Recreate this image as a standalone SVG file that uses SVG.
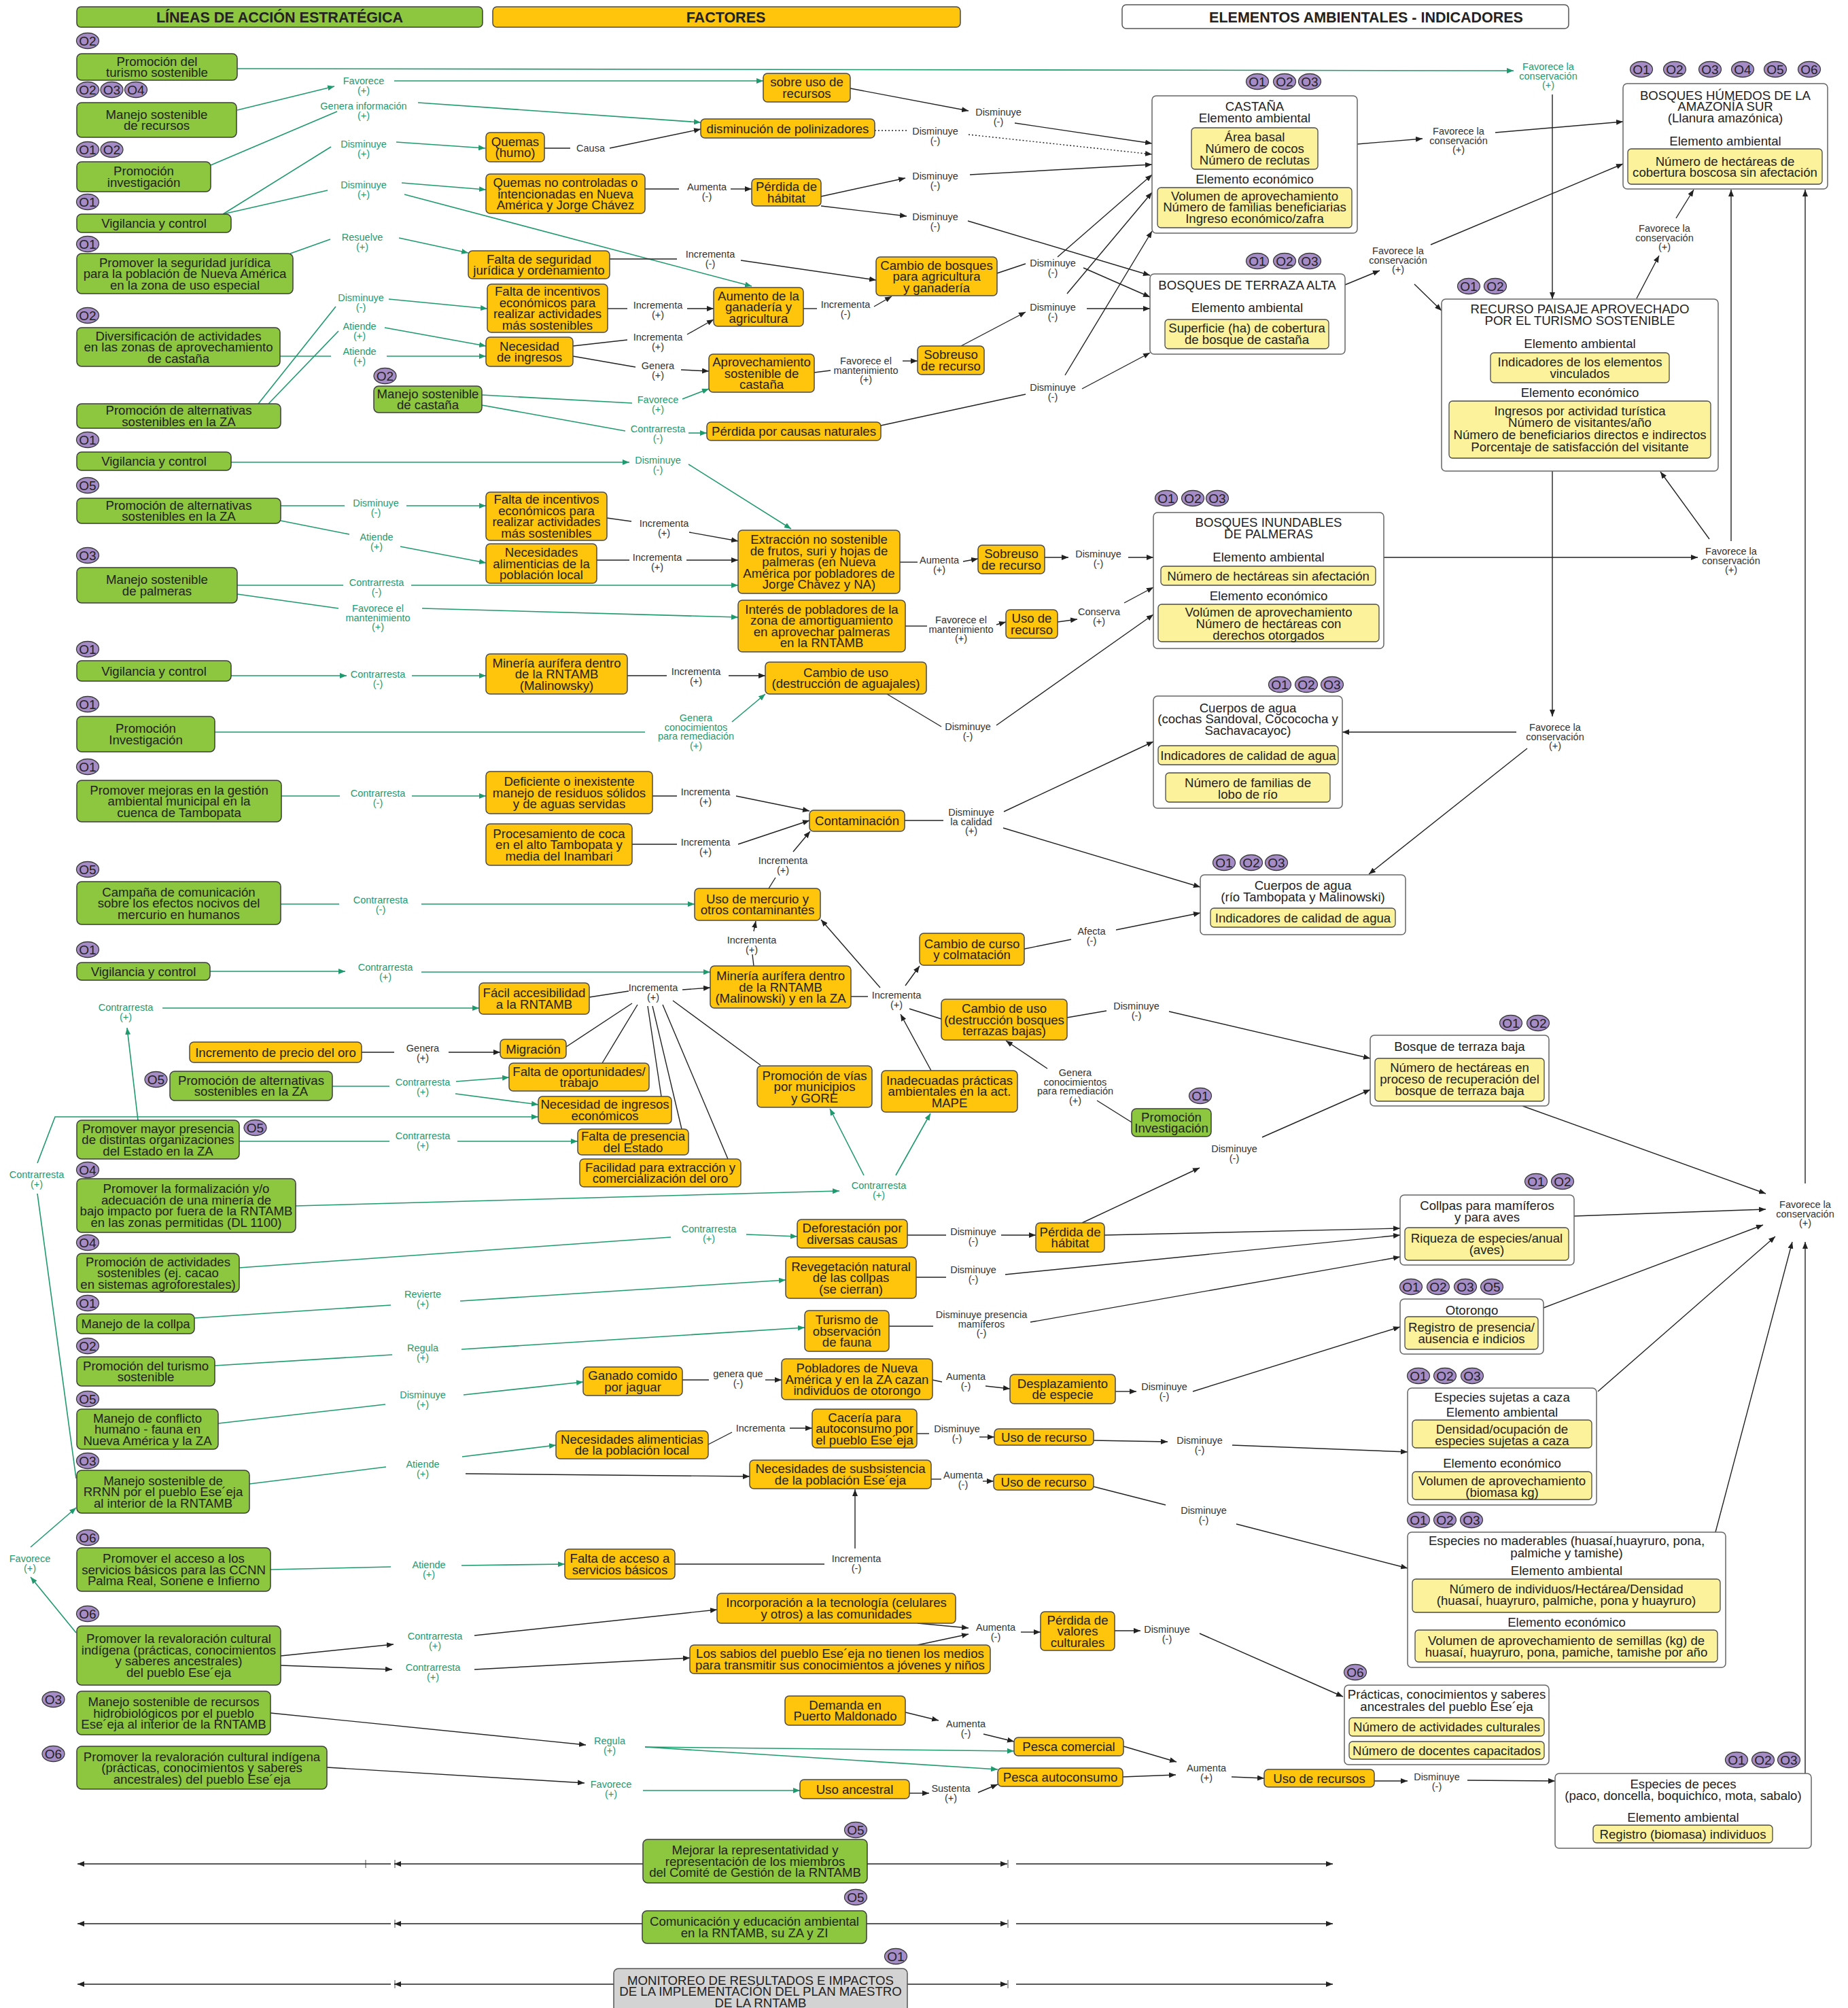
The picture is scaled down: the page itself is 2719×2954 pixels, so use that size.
<svg xmlns="http://www.w3.org/2000/svg" width="2719" height="2954" viewBox="0 0 2719 2954">
<style>
text{font-family:"Liberation Sans",Arial,sans-serif}
.g{fill:#8dc63f;stroke:#3d3d3d;stroke-width:1.5}
.o{fill:#ffc40c;stroke:#4a4a4a;stroke-width:1.5}
.y{fill:#fbf29b;stroke:#4a4a4a;stroke-width:1.3}
.w{fill:#fff;stroke:#666;stroke-width:1.5}
.gr{fill:#d3d3d3;stroke:#555;stroke-width:1.5}
.hd{fill:#fff;stroke:#555;stroke-width:1.5}
.b{fill:#a68cc7;stroke:#3a3a3a;stroke-width:1.3}
.bt{font-size:19px;fill:#222;text-anchor:middle}
.t{font-size:18.6px;fill:#222;text-anchor:middle}
.h{font-size:21.5px;font-weight:bold;fill:#222;text-anchor:middle}
.lg{font-size:14.5px;fill:#1f9a6e;text-anchor:middle}
.ld{font-size:14.5px;fill:#333;text-anchor:middle}
.cg{fill:none;stroke:#1f9a6e;stroke-width:1.6}
.cd{fill:none;stroke:#222;stroke-width:1.4}
.ag{marker-end:url(#mg)}
.ad{marker-end:url(#md)}
.dot{stroke-dasharray:2 3}
</style>
<defs>
<marker id="mg" viewBox="0 0 10 8" refX="10" refY="4" markerWidth="10" markerHeight="8" markerUnits="userSpaceOnUse" orient="auto"><path d="M0,0L10,4L0,8z" fill="#1f9a6e"/></marker>
<marker id="md" viewBox="0 0 10 8" refX="10" refY="4" markerWidth="10" markerHeight="8" markerUnits="userSpaceOnUse" orient="auto"><path d="M0,0L10,4L0,8z" fill="#222"/></marker>
</defs>
<rect width="2719" height="2954" fill="#fff"/>

<g id="headers">
<rect class="g" x="113" y="10" width="597" height="30" rx="6"/>
<text class="h" x="411.5" y="33">LÍNEAS DE ACCIÓN ESTRATÉGICA</text>
<rect class="o" x="725" y="10" width="688" height="30" rx="6"/>
<text class="h" x="1068" y="33">FACTORES</text>
<rect class="hd" x="1651" y="7" width="657" height="35" rx="6"/>
<text class="h" x="2010" y="33">ELEMENTOS AMBIENTALES - INDICADORES</text>
</g>

<g id="connectors">
<path class="cg ag" d="M349,101L2227,104"/>
<path class="cg ag" d="M349,162L492,127"/>
<path class="cg ag" d="M580,119L1123,119"/>
<path class="cg" d="M310,243L496,164"/>
<path class="cg ag" d="M615,151L1031,180"/>
<path class="cg" d="M328,315L487,216"/>
<path class="cg ag" d="M583,209L714,218"/>
<path class="cg" d="M328,315L482,280"/>
<path class="cg ag" d="M591,269L715,279"/>
<path class="cg ag" d="M595,286L1106,421"/>
<path class="cg" d="M427,373L486,352"/>
<path class="cg ag" d="M587,350L689,372"/>
<path class="cg" d="M412,524L487,524"/>
<path class="cg ag" d="M569,524L715,524"/>
<path class="cg" d="M380,594L494,451"/>
<path class="cg ag" d="M572,440L717,454"/>
<path class="cg" d="M395,594L498,487"/>
<path class="cg ag" d="M566,482L715,509"/>
<path class="cg" d="M709,581L930,593"/>
<path class="cg ag" d="M1004,587L1043,572"/>
<path class="cg" d="M709,596L920,634"/>
<path class="cg ag" d="M1013,637L1040,637"/>
<path class="cg ag" d="M340,680L926,680"/>
<path class="cg ag" d="M1013,683L1164,778"/>
<path class="cg" d="M413,744L507,744"/>
<path class="cg ag" d="M598,744L715,744"/>
<path class="cg" d="M413,766L514,786"/>
<path class="cg ag" d="M589,804L715,828"/>
<path class="cg" d="M349,861L505,861"/>
<path class="cg ag" d="M605,861L1086,861"/>
<path class="cg" d="M349,874L498,895"/>
<path class="cg ag" d="M621,895L1086,908"/>
<path class="cg ag" d="M340,994L510,994"/>
<path class="cg ag" d="M606,994L715,994"/>
<path class="cg" d="M316,1077L949,1077"/>
<path class="cg ag" d="M1077,1062L1126,1021"/>
<path class="cg" d="M414,1171L500,1171"/>
<path class="cg ag" d="M606,1171L715,1171"/>
<path class="cg" d="M413,1330L499,1330"/>
<path class="cg ag" d="M620,1330L1022,1330"/>
<path class="cg ag" d="M309,1429L508,1429"/>
<path class="cg ag" d="M620,1430L1045,1430"/>
<path class="cg ag" d="M239,1483L705,1483"/>
<path class="cg ag" d="M203,1648L187,1512"/>
<path class="cg" d="M489,1598L573,1598"/>
<path class="cg ag" d="M671,1591L749,1585"/>
<path class="cg ag" d="M670,1609L792,1625"/>
<path class="cg ag" d="M55,1711L81,1643L792,1643"/>
<path class="cg" d="M112,2175L55,1756"/>
<path class="cg" d="M352,1679L573,1679"/>
<path class="cg ag" d="M673,1679L850,1679"/>
<path class="cg ag" d="M435,1774L1235,1752"/>
<path class="cg ag" d="M1271,1729L1221,1631"/>
<path class="cg ag" d="M1318,1729L1369,1638"/>
<path class="cg" d="M352,1865L987,1820"/>
<path class="cg ag" d="M1098,1816L1173,1819"/>
<path class="cg" d="M286,1939L575,1920"/>
<path class="cg ag" d="M677,1914L1156,1883"/>
<path class="cg" d="M316,2009L577,1993"/>
<path class="cg ag" d="M679,1985L1184,1953"/>
<path class="cg" d="M321,2094L567,2066"/>
<path class="cg ag" d="M682,2052L858,2033"/>
<path class="cg" d="M367,2183L568,2158"/>
<path class="cg ag" d="M680,2143L818,2126"/>
<path class="cg ag" d="M45,2276L112,2218"/>
<path class="cg ag" d="M112,2402L45,2320"/>
<path class="cg" d="M398,2309L575,2305"/>
<path class="cg ag" d="M679,2303L831,2301"/>
<path class="cg ag" d="M949,2570L1492,2576"/>
<path class="cg ag" d="M949,2570L1468,2603"/>
<path class="cg ag" d="M946,2634L1177,2634"/>

<path class="cd ad" d="M685,2168L1103,2172"/>
<path class="cd ad" d="M413,2436L579,2419"/>
<path class="cd ad" d="M698,2406L1055,2368"/>
<path class="cd ad" d="M413,2450L577,2456"/>
<path class="cd ad" d="M698,2456L1015,2439"/>
<path class="cd ad" d="M398,2520L862,2567"/>
<path class="cd ad" d="M481,2600L860,2623"/>
<path class="cd ad" d="M2284,139L2284,440"/>
<path class="cd ad" d="M2284,693L2284,1054"/>
<path class="cd ad" d="M2231,1077L1975,1077"/>
<path class="cd ad" d="M2247,1101L2014,1286"/>
<path class="cd" d="M532,1548L580,1548"/>
<path class="cd ad" d="M660,1548L736,1548"/>
<path class="cd" d="M801,218L839,218"/>
<path class="cd ad" d="M897,218L1031,190"/>
<path class="cd ad" d="M1251,130L1425,163"/>
<path class="cd ad" d="M1493,181L1695,211"/>
<path class="cd dot" d="M1287,192L1335,192"/>
<path class="cd dot ad" d="M1425,198L1695,227"/>
<path class="cd" d="M949,278L999,278"/>
<path class="cd ad" d="M1075,278L1106,278"/>
<path class="cd ad" d="M1208,289L1332,262"/>
<path class="cd ad" d="M1427,257L1695,242"/>
<path class="cd ad" d="M1208,303L1334,318"/>
<path class="cd ad" d="M1424,325L1692,405"/>
<path class="cd" d="M897,381L996,381"/>
<path class="cd ad" d="M1090,383L1289,412"/>
<path class="cd" d="M894,454L923,454"/>
<path class="cd ad" d="M1011,454L1050,454"/>
<path class="cd" d="M843,509L923,500"/>
<path class="cd ad" d="M1011,492L1050,470"/>
<path class="cd" d="M843,524L935,540"/>
<path class="cd ad" d="M1002,544L1043,546"/>
<path class="cd" d="M1182,454L1202,454"/>
<path class="cd ad" d="M1286,451L1312,436"/>
<path class="cd" d="M1467,402L1509,388"/>
<path class="cd ad" d="M1556,378L1695,257"/>
<path class="cd ad" d="M1594,394L1692,437"/>
<path class="cd ad" d="M1414,509L1509,459"/>
<path class="cd ad" d="M1599,454L1692,454"/>
<path class="cd ad" d="M1570,432L1695,283"/>
<path class="cd" d="M1198,548L1222,545"/>
<path class="cd ad" d="M1328,531L1350,531"/>
<path class="cd" d="M1296,626L1509,580"/>
<path class="cd ad" d="M1592,572L1692,519"/>
<path class="cd ad" d="M1567,552L1695,340"/>
<path class="cd ad" d="M1997,212L2093,204"/>
<path class="cd ad" d="M2200,195L2388,179"/>
<path class="cd ad" d="M1979,419L2030,398"/>
<path class="cd ad" d="M2105,360L2388,241"/>
<path class="cd ad" d="M2081,418L2121,457"/>
<path class="cd ad" d="M2408,439L2441,376"/>
<path class="cd ad" d="M2466,321L2492,279"/>
<path class="cd ad" d="M2547,796L2547,279"/>
<path class="cd ad" d="M2515,793L2443,694"/>
<path class="cd ad" d="M2036,820L2498,820"/>
<path class="cd ad" d="M2656,1741L2656,279"/>
<path class="cd ad" d="M2240,1627L2598,1756"/>
<path class="cd ad" d="M2316,1789L2598,1779"/>
<path class="cd ad" d="M2271,1924L2594,1802"/>
<path class="cd ad" d="M2351,2047L2612,1819"/>
<path class="cd ad" d="M2524,2254L2637,1827"/>
<path class="cd ad" d="M2656,2609L2656,1827"/>
<path class="cd" d="M893,762L929,767"/>
<path class="cd ad" d="M1014,783L1086,796"/>
<path class="cd" d="M878,824L926,824"/>
<path class="cd ad" d="M1010,824L1086,824"/>
<path class="cd" d="M1324,827L1350,827"/>
<path class="cd ad" d="M1417,826L1439,822"/>
<path class="cd ad" d="M1537,820L1572,820"/>
<path class="cd ad" d="M1660,820L1697,820"/>
<path class="cd" d="M1332,921L1364,921"/>
<path class="cd ad" d="M1466,919L1480,915"/>
<path class="cd ad" d="M1556,915L1585,911"/>
<path class="cd ad" d="M1654,887L1697,864"/>
<path class="cd" d="M923,994L981,994"/>
<path class="cd ad" d="M1072,994L1126,994"/>
<path class="cd" d="M1305,1021L1385,1069"/>
<path class="cd ad" d="M1466,1067L1697,904"/>
<path class="cd" d="M960,1171L996,1171"/>
<path class="cd ad" d="M1083,1171L1191,1193"/>
<path class="cd" d="M930,1242L996,1242"/>
<path class="cd ad" d="M1086,1242L1191,1207"/>
<path class="cd" d="M1131,1307L1141,1291"/>
<path class="cd ad" d="M1167,1253L1192,1223"/>
<path class="cd" d="M1331,1207L1388,1207"/>
<path class="cd ad" d="M1477,1194L1697,1091"/>
<path class="cd ad" d="M1476,1218L1766,1305"/>
<path class="cd" d="M1109,1421L1107,1404"/>
<path class="cd ad" d="M1109,1370L1112,1355"/>
<path class="cd" d="M1252,1466L1277,1466"/>
<path class="cd ad" d="M1295,1453L1208,1353"/>
<path class="cd ad" d="M1332,1450L1353,1421"/>
<path class="cd" d="M1338,1484L1385,1499"/>
<path class="cd ad" d="M1370,1575L1325,1492"/>
<path class="cd" d="M1507,1396L1576,1382"/>
<path class="cd ad" d="M1642,1368L1766,1343"/>
<path class="cd ad" d="M1004,1456L1045,1453"/>
<path class="cd" d="M867,1467L925,1458"/>
<path class="cd" d="M833,1540L930,1476"/>
<path class="cd" d="M886,1564L938,1478"/>
<path class="cd" d="M973,1613L953,1480"/>
<path class="cd" d="M1003,1661L960,1480"/>
<path class="cd" d="M1071,1705L975,1478"/>
<path class="cd" d="M1119,1567L990,1472"/>
<path class="cd" d="M1570,1497L1628,1487"/>
<path class="cd ad" d="M1720,1488L2016,1557"/>
<path class="cd" d="M1665,1651L1614,1619"/>
<path class="cd ad" d="M1541,1572L1480,1531"/>
<path class="cd" d="M1335,1817L1392,1817"/>
<path class="cd ad" d="M1473,1817L1524,1817"/>
<path class="cd ad" d="M1625,1817L2060,1807"/>
<path class="cd ad" d="M1592,1799L1765,1718"/>
<path class="cd ad" d="M1857,1673L2016,1603"/>
<path class="cd" d="M1348,1879L1392,1879"/>
<path class="cd ad" d="M1479,1875L2060,1817"/>
<path class="cd" d="M1308,1951L1373,1951"/>
<path class="cd ad" d="M1516,1945L2060,1849"/>
<path class="cd" d="M1004,2030L1043,2030"/>
<path class="cd ad" d="M1126,2030L1150,2030"/>
<path class="cd" d="M1372,2030L1386,2033"/>
<path class="cd ad" d="M1450,2039L1486,2043"/>
<path class="cd ad" d="M1641,2047L1672,2047"/>
<path class="cd ad" d="M1755,2047L2060,1952"/>
<path class="cd" d="M1042,2125L1077,2107"/>
<path class="cd ad" d="M1162,2101L1195,2101"/>
<path class="cd" d="M1349,2109L1367,2109"/>
<path class="cd ad" d="M1441,2114L1463,2114"/>
<path class="cd ad" d="M1609,2119L1718,2121"/>
<path class="cd ad" d="M1813,2126L2071,2136"/>
<path class="cd" d="M1370,2176L1385,2176"/>
<path class="cd ad" d="M1446,2179L1462,2179"/>
<path class="cd" d="M1609,2187L1715,2214"/>
<path class="cd ad" d="M1819,2242L2071,2307"/>
<path class="cd" d="M993,2301L1213,2301"/>
<path class="cd ad" d="M1258,2278L1258,2191"/>
<path class="cd ad" d="M1350,2388L1425,2395"/>
<path class="cd ad" d="M1350,2420L1425,2404"/>
<path class="cd ad" d="M1502,2401L1531,2401"/>
<path class="cd ad" d="M1640,2399L1678,2399"/>
<path class="cd ad" d="M1765,2403L1976,2496"/>
<path class="cd ad" d="M1332,2519L1381,2531"/>
<path class="cd ad" d="M1447,2551L1492,2562"/>
<path class="cd ad" d="M1338,2638L1367,2638"/>
<path class="cd ad" d="M1439,2637L1468,2625"/>
<path class="cd ad" d="M1653,2569L1731,2592"/>
<path class="cd ad" d="M1652,2614L1730,2611"/>
<path class="cd ad" d="M1812,2614L1860,2616"/>
<path class="cd ad" d="M2022,2620L2071,2620"/>
<path class="cd ad" d="M2159,2619L2288,2620"/>

<path class="cd ad" d="M946,2742L580,2742"/>
<path class="cd ad" d="M575,2742L114,2742"/>
<path class="cd ad" d="M1276,2742L1482,2742"/>
<path class="cd ad" d="M1495,2742L1961,2742"/>
<path class="cd ad" d="M945,2830L580,2830"/>
<path class="cd ad" d="M575,2830L114,2830"/>
<path class="cd ad" d="M1275,2830L1482,2830"/>
<path class="cd ad" d="M1495,2830L1961,2830"/>
<path class="cd ad" d="M903,2919L580,2919"/>
<path class="cd ad" d="M575,2919L114,2919"/>
<path class="cd ad" d="M1335,2919L1482,2919"/>
<path class="cd ad" d="M1495,2919L1961,2919"/>
<path class="cd" style="stroke-width:0.8" d="M538,2736V2748M581,2736V2748M1483,2736V2748M581,2824V2836M1483,2824V2836M581,2913V2925M1483,2913V2925"/>
</g>

<g id="labels">
<text class="lg" x="2278" y="103">Favorece la<tspan x="2278" dy="13.5">conservación</tspan><tspan x="2278" dy="13.5">(+)</tspan></text>
<text class="lg" x="535" y="124">Favorece<tspan x="535" dy="13.5">(+)</tspan></text>
<text class="lg" x="535" y="161">Genera información<tspan x="535" dy="13.5">(+)</tspan></text>
<text class="lg" x="535" y="217">Disminuye<tspan x="535" dy="13.5">(+)</tspan></text>
<text class="lg" x="535" y="277">Disminuye<tspan x="535" dy="13.5">(+)</tspan></text>
<text class="lg" x="533" y="354">Resuelve<tspan x="533" dy="13.5">(+)</tspan></text>
<text class="lg" x="531" y="443">Disminuye<tspan x="531" dy="13.5">(-)</tspan></text>
<text class="lg" x="529" y="485">Atiende<tspan x="529" dy="13.5">(+)</tspan></text>
<text class="lg" x="529" y="522">Atiende<tspan x="529" dy="13.5">(+)</tspan></text>
<text class="lg" x="968" y="593">Favorece<tspan x="968" dy="13.5">(+)</tspan></text>
<text class="lg" x="968" y="636">Contrarresta<tspan x="968" dy="13.5">(-)</tspan></text>
<text class="lg" x="968" y="682">Disminuye<tspan x="968" dy="13.5">(-)</tspan></text>
<text class="lg" x="553" y="745">Disminuye<tspan x="553" dy="13.5">(-)</tspan></text>
<text class="lg" x="554" y="795">Atiende<tspan x="554" dy="13.5">(+)</tspan></text>
<text class="lg" x="554" y="862">Contrarresta<tspan x="554" dy="13.5">(-)</tspan></text>
<text class="lg" x="556" y="900">Favorece el<tspan x="556" dy="13.5">mantenimiento</tspan><tspan x="556" dy="13.5">(+)</tspan></text>
<text class="lg" x="556" y="997">Contrarresta<tspan x="556" dy="14">(-)</tspan></text>
<text class="lg" x="1024" y="1061">Genera<tspan x="1024" dy="13.5">conocimientos</tspan><tspan x="1024" dy="13.5">para remediación</tspan><tspan x="1024" dy="13.5">(+)</tspan></text>
<text class="lg" x="556" y="1172">Contrarresta<tspan x="556" dy="13.5">(-)</tspan></text>
<text class="lg" x="560" y="1329">Contrarresta<tspan x="560" dy="13.5">(-)</tspan></text>
<text class="lg" x="567" y="1428">Contrarresta<tspan x="567" dy="13.5">(+)</tspan></text>
<text class="lg" x="185" y="1487">Contrarresta<tspan x="185" dy="13.5">(+)</tspan></text>
<text class="lg" x="622" y="1597">Contrarresta<tspan x="622" dy="13.5">(+)</tspan></text>
<text class="lg" x="54" y="1733">Contrarresta<tspan x="54" dy="13.5">(+)</tspan></text>
<text class="lg" x="622" y="1676">Contrarresta<tspan x="622" dy="13.5">(+)</tspan></text>
<text class="lg" x="1293" y="1749">Contrarresta<tspan x="1293" dy="13.5">(+)</tspan></text>
<text class="lg" x="1043" y="1813">Contrarresta<tspan x="1043" dy="13.5">(+)</tspan></text>
<text class="lg" x="622" y="1909">Revierte<tspan x="622" dy="13.5">(+)</tspan></text>
<text class="lg" x="622" y="1988">Regula<tspan x="622" dy="13.5">(+)</tspan></text>
<text class="lg" x="622" y="2057">Disminuye<tspan x="622" dy="13.5">(+)</tspan></text>
<text class="lg" x="622" y="2159">Atiende<tspan x="622" dy="13.5">(+)</tspan></text>
<text class="lg" x="44" y="2298">Favorece<tspan x="44" dy="13.5">(+)</tspan></text>
<text class="lg" x="631" y="2307">Atiende<tspan x="631" dy="13.5">(+)</tspan></text>
<text class="lg" x="640" y="2412">Contrarresta<tspan x="640" dy="13.5">(+)</tspan></text>
<text class="lg" x="637" y="2458">Contrarresta<tspan x="637" dy="13.5">(+)</tspan></text>
<text class="lg" x="897" y="2566">Regula<tspan x="897" dy="13.5">(+)</tspan></text>
<text class="lg" x="899" y="2630">Favorece<tspan x="899" dy="13.5">(+)</tspan></text>

<text class="ld" x="869" y="223">Causa</text>
<text class="ld" x="1469" y="170">Disminuye<tspan x="1469" dy="13.5">(-)</tspan></text>
<text class="ld" x="1376" y="198">Disminuye<tspan x="1376" dy="13.5">(-)</tspan></text>
<text class="ld" x="1040" y="280">Aumenta<tspan x="1040" dy="13.5">(-)</tspan></text>
<text class="ld" x="1376" y="264">Disminuye<tspan x="1376" dy="13.5">(-)</tspan></text>
<text class="ld" x="1376" y="324">Disminuye<tspan x="1376" dy="13.5">(-)</tspan></text>
<text class="ld" x="1045" y="379">Incrementa<tspan x="1045" dy="13.5">(-)</tspan></text>
<text class="ld" x="968" y="454">Incrementa<tspan x="968" dy="13.5">(+)</tspan></text>
<text class="ld" x="968" y="501">Incrementa<tspan x="968" dy="13.5">(+)</tspan></text>
<text class="ld" x="968" y="543">Genera<tspan x="968" dy="13.5">(+)</tspan></text>
<text class="ld" x="1244" y="453">Incrementa<tspan x="1244" dy="13.5">(-)</tspan></text>
<text class="ld" x="1549" y="392">Disminuye<tspan x="1549" dy="13.5">(-)</tspan></text>
<text class="ld" x="1549" y="457">Disminuye<tspan x="1549" dy="13.5">(-)</tspan></text>
<text class="ld" x="1274" y="536">Favorece el<tspan x="1274" dy="13.5">mantenimiento</tspan><tspan x="1274" dy="13.5">(+)</tspan></text>
<text class="ld" x="1549" y="575">Disminuye<tspan x="1549" dy="13.5">(-)</tspan></text>
<text class="ld" x="2146" y="198">Favorece la<tspan x="2146" dy="13.5">conservación</tspan><tspan x="2146" dy="13.5">(+)</tspan></text>
<text class="ld" x="2057" y="374">Favorece la<tspan x="2057" dy="13.5">conservación</tspan><tspan x="2057" dy="13.5">(+)</tspan></text>
<text class="ld" x="2449" y="341">Favorece la<tspan x="2449" dy="13.5">conservación</tspan><tspan x="2449" dy="13.5">(+)</tspan></text>
<text class="ld" x="2547" y="816">Favorece la<tspan x="2547" dy="13.5">conservación</tspan><tspan x="2547" dy="13.5">(+)</tspan></text>
<text class="ld" x="2288" y="1075">Favorece la<tspan x="2288" dy="13.5">conservación</tspan><tspan x="2288" dy="13.5">(+)</tspan></text>
<text class="ld" x="2656" y="1777">Favorece la<tspan x="2656" dy="13.5">conservación</tspan><tspan x="2656" dy="13.5">(+)</tspan></text>
<text class="ld" x="977" y="775">Incrementa<tspan x="977" dy="13.5">(+)</tspan></text>
<text class="ld" x="967" y="825">Incrementa<tspan x="967" dy="13.5">(+)</tspan></text>
<text class="ld" x="1382" y="829">Aumenta<tspan x="1382" dy="13.5">(+)</tspan></text>
<text class="ld" x="1616" y="820">Disminuye<tspan x="1616" dy="13.5">(-)</tspan></text>
<text class="ld" x="1414" y="917">Favorece el<tspan x="1414" dy="13.5">mantenimiento</tspan><tspan x="1414" dy="13.5">(+)</tspan></text>
<text class="ld" x="1617" y="905">Conserva<tspan x="1617" dy="13.5">(+)</tspan></text>
<text class="ld" x="1024" y="993">Incrementa<tspan x="1024" dy="13.5">(+)</tspan></text>
<text class="ld" x="1424" y="1074">Disminuye<tspan x="1424" dy="13.5">(-)</tspan></text>
<text class="ld" x="1038" y="1170">Incrementa<tspan x="1038" dy="13.5">(+)</tspan></text>
<text class="ld" x="1038" y="1244">Incrementa<tspan x="1038" dy="13.5">(+)</tspan></text>
<text class="ld" x="1152" y="1271">Incrementa<tspan x="1152" dy="13.5">(+)</tspan></text>
<text class="ld" x="1429" y="1200">Disminuye<tspan x="1429" dy="13.5">la calidad</tspan><tspan x="1429" dy="13.5">(+)</tspan></text>
<text class="ld" x="1106" y="1388">Incrementa<tspan x="1106" dy="13.5">(+)</tspan></text>
<text class="ld" x="1319" y="1469">Incrementa<tspan x="1319" dy="13.5">(+)</tspan></text>
<text class="ld" x="1606" y="1375">Afecta<tspan x="1606" dy="13.5">(-)</tspan></text>
<text class="ld" x="961" y="1458">Incrementa<tspan x="961" dy="13.5">(+)</tspan></text>
<text class="ld" x="622" y="1547">Genera<tspan x="622" dy="13.5">(+)</tspan></text>
<text class="ld" x="1672" y="1485">Disminuye<tspan x="1672" dy="13.5">(-)</tspan></text>
<text class="ld" x="1582" y="1583">Genera<tspan x="1582" dy="13.5">conocimientos</tspan><tspan x="1582" dy="13.5">para remediación</tspan><tspan x="1582" dy="13.5">(+)</tspan></text>
<text class="ld" x="1432" y="1817">Disminuye<tspan x="1432" dy="13.5">(-)</tspan></text>
<text class="ld" x="1816" y="1695">Disminuye<tspan x="1816" dy="13.5">(-)</tspan></text>
<text class="ld" x="1432" y="1873">Disminuye<tspan x="1432" dy="13.5">(-)</tspan></text>
<text class="ld" x="1444" y="1939">Disminuye presencia<tspan x="1444" dy="13.5">mamíferos</tspan><tspan x="1444" dy="13.5">(-)</tspan></text>
<text class="ld" x="1086" y="2026">genera que<tspan x="1086" dy="13.5">(-)</tspan></text>
<text class="ld" x="1421" y="2030">Aumenta<tspan x="1421" dy="13.5">(-)</tspan></text>
<text class="ld" x="1713" y="2045">Disminuye<tspan x="1713" dy="13.5">(-)</tspan></text>
<text class="ld" x="1119" y="2106">Incrementa</text>
<text class="ld" x="1408" y="2107">Disminuye<tspan x="1408" dy="13.5">(-)</tspan></text>
<text class="ld" x="1765" y="2124">Disminuye<tspan x="1765" dy="13.5">(-)</tspan></text>
<text class="ld" x="1417" y="2175">Aumenta<tspan x="1417" dy="13.5">(-)</tspan></text>
<text class="ld" x="1771" y="2227">Disminuye<tspan x="1771" dy="13.5">(-)</tspan></text>
<text class="ld" x="1260" y="2298">Incrementa<tspan x="1260" dy="13.5">(-)</tspan></text>
<text class="ld" x="1465" y="2399">Aumenta<tspan x="1465" dy="13.5">(-)</tspan></text>
<text class="ld" x="1717" y="2402">Disminuye<tspan x="1717" dy="13.5">(-)</tspan></text>
<text class="ld" x="1421" y="2541">Aumenta<tspan x="1421" dy="13.5">(-)</tspan></text>
<text class="ld" x="1399" y="2636">Sustenta<tspan x="1399" dy="13.5">(+)</tspan></text>
<text class="ld" x="1775" y="2606">Aumenta<tspan x="1775" dy="13.5">(+)</tspan></text>
<text class="ld" x="2114" y="2619">Disminuye<tspan x="2114" dy="13.5">(-)</tspan></text>
</g>

<g id="badges">
<g class="b"><ellipse cx="129" cy="60" rx="16.5" ry="11.5"/><ellipse cx="129" cy="132" rx="16.5" ry="11.5"/><ellipse cx="164.5" cy="132" rx="16.5" ry="11.5"/><ellipse cx="200" cy="132" rx="16.5" ry="11.5"/><ellipse cx="129" cy="220" rx="16.5" ry="11.5"/><ellipse cx="164.5" cy="220" rx="16.5" ry="11.5"/><ellipse cx="129" cy="297" rx="16.5" ry="11.5"/><ellipse cx="129" cy="359" rx="16.5" ry="11.5"/><ellipse cx="129" cy="464" rx="16.5" ry="11.5"/><ellipse cx="566.5" cy="553" rx="16.5" ry="11.5"/><ellipse cx="129" cy="647" rx="16.5" ry="11.5"/><ellipse cx="129" cy="714" rx="16.5" ry="11.5"/><ellipse cx="129" cy="817" rx="16.5" ry="11.5"/><ellipse cx="129" cy="955" rx="16.5" ry="11.5"/><ellipse cx="129" cy="1036" rx="16.5" ry="11.5"/><ellipse cx="129" cy="1128" rx="16.5" ry="11.5"/><ellipse cx="129" cy="1279" rx="16.5" ry="11.5"/><ellipse cx="129" cy="1397" rx="16.5" ry="11.5"/><ellipse cx="229.5" cy="1588" rx="16.5" ry="11.5"/><ellipse cx="375.5" cy="1659" rx="16.5" ry="11.5"/><ellipse cx="129" cy="1721" rx="16.5" ry="11.5"/><ellipse cx="129" cy="1828" rx="16.5" ry="11.5"/><ellipse cx="129" cy="1917" rx="16.5" ry="11.5"/><ellipse cx="129" cy="1980" rx="16.5" ry="11.5"/><ellipse cx="129" cy="2058" rx="16.5" ry="11.5"/><ellipse cx="129" cy="2149" rx="16.5" ry="11.5"/><ellipse cx="129" cy="2262" rx="16.5" ry="11.5"/><ellipse cx="129" cy="2374" rx="16.5" ry="11.5"/><ellipse cx="78.5" cy="2500" rx="16.5" ry="11.5"/><ellipse cx="78.5" cy="2580" rx="16.5" ry="11.5"/><ellipse cx="1259" cy="2692" rx="16.5" ry="11.5"/><ellipse cx="1259" cy="2791" rx="16.5" ry="11.5"/><ellipse cx="1318" cy="2878" rx="16.5" ry="11.5"/><ellipse cx="1766" cy="1612" rx="16.5" ry="11.5"/>
<ellipse cx="1850" cy="120" rx="16.5" ry="11.5"/><ellipse cx="1890" cy="120" rx="16.5" ry="11.5"/><ellipse cx="1927" cy="120" rx="16.5" ry="11.5"/>
<ellipse cx="1850" cy="384" rx="16.5" ry="11.5"/><ellipse cx="1890" cy="384" rx="16.5" ry="11.5"/><ellipse cx="1927" cy="384" rx="16.5" ry="11.5"/>
<ellipse cx="2415" cy="102" rx="16.5" ry="11.5"/><ellipse cx="2464" cy="102" rx="16.5" ry="11.5"/><ellipse cx="2516" cy="102" rx="16.5" ry="11.5"/><ellipse cx="2564" cy="102" rx="16.5" ry="11.5"/><ellipse cx="2612" cy="102" rx="16.5" ry="11.5"/><ellipse cx="2662" cy="102" rx="16.5" ry="11.5"/>
<ellipse cx="2161" cy="421" rx="16.5" ry="11.5"/><ellipse cx="2200" cy="421" rx="16.5" ry="11.5"/>
<ellipse cx="1716" cy="733" rx="16.5" ry="11.5"/><ellipse cx="1755" cy="733" rx="16.5" ry="11.5"/><ellipse cx="1791" cy="733" rx="16.5" ry="11.5"/>
<ellipse cx="1883" cy="1007" rx="16.5" ry="11.5"/><ellipse cx="1922" cy="1007" rx="16.5" ry="11.5"/><ellipse cx="1960" cy="1007" rx="16.5" ry="11.5"/>
<ellipse cx="1801" cy="1269" rx="16.5" ry="11.5"/><ellipse cx="1841" cy="1269" rx="16.5" ry="11.5"/><ellipse cx="1878" cy="1269" rx="16.5" ry="11.5"/>
<ellipse cx="2223" cy="1505" rx="16.5" ry="11.5"/><ellipse cx="2263" cy="1505" rx="16.5" ry="11.5"/>
<ellipse cx="2260" cy="1738" rx="16.5" ry="11.5"/><ellipse cx="2299" cy="1738" rx="16.5" ry="11.5"/>
<ellipse cx="2076" cy="1893" rx="16.5" ry="11.5"/><ellipse cx="2116" cy="1893" rx="16.5" ry="11.5"/><ellipse cx="2156" cy="1893" rx="16.5" ry="11.5"/><ellipse cx="2195" cy="1893" rx="16.5" ry="11.5"/>
<ellipse cx="2087" cy="2024" rx="16.5" ry="11.5"/><ellipse cx="2126" cy="2024" rx="16.5" ry="11.5"/><ellipse cx="2166" cy="2024" rx="16.5" ry="11.5"/>
<ellipse cx="2087" cy="2236" rx="16.5" ry="11.5"/><ellipse cx="2126" cy="2236" rx="16.5" ry="11.5"/><ellipse cx="2165" cy="2236" rx="16.5" ry="11.5"/>
<ellipse cx="1994" cy="2460" rx="16.5" ry="11.5"/>
<ellipse cx="2555" cy="2589" rx="16.5" ry="11.5"/><ellipse cx="2594" cy="2589" rx="16.5" ry="11.5"/><ellipse cx="2632" cy="2589" rx="16.5" ry="11.5"/>
</g>
<g class="bt" transform="translate(0,1.3)">
<text x="129" y="65.5">O2</text><text x="129" y="137.5">O2</text><text x="164.5" y="137.5">O3</text><text x="200" y="137.5">O4</text><text x="129" y="225.5">O1</text><text x="164.5" y="225.5">O2</text><text x="129" y="302.5">O1</text><text x="129" y="364.5">O1</text><text x="129" y="469.5">O2</text><text x="566.5" y="558.5">O2</text><text x="129" y="652.5">O1</text><text x="129" y="719.5">O5</text><text x="129" y="822.5">O3</text><text x="129" y="960.5">O1</text><text x="129" y="1041.5">O1</text><text x="129" y="1133.5">O1</text><text x="129" y="1284.5">O5</text><text x="129" y="1402.5">O1</text><text x="229.5" y="1593.5">O5</text><text x="375.5" y="1664.5">O5</text><text x="129" y="1726.5">O4</text><text x="129" y="1833.5">O4</text><text x="129" y="1922.5">O1</text><text x="129" y="1985.5">O2</text><text x="129" y="2063.5">O5</text><text x="129" y="2154.5">O3</text><text x="129" y="2267.5">O6</text><text x="129" y="2379.5">O6</text><text x="78.5" y="2505.5">O3</text><text x="78.5" y="2585.5">O6</text><text x="1259" y="2697.5">O5</text><text x="1259" y="2796.5">O5</text><text x="1318" y="2883.5">O1</text><text x="1766" y="1617.5">O1</text>
<text x="1850" y="125.5">O1</text><text x="1890" y="125.5">O2</text><text x="1927" y="125.5">O3</text>
<text x="1850" y="389.5">O1</text><text x="1890" y="389.5">O2</text><text x="1927" y="389.5">O3</text>
<text x="2415" y="107.5">O1</text><text x="2464" y="107.5">O2</text><text x="2516" y="107.5">O3</text><text x="2564" y="107.5">O4</text><text x="2612" y="107.5">O5</text><text x="2662" y="107.5">O6</text>
<text x="2161" y="426.5">O1</text><text x="2200" y="426.5">O2</text>
<text x="1716" y="738.5">O1</text><text x="1755" y="738.5">O2</text><text x="1791" y="738.5">O3</text>
<text x="1883" y="1012.5">O1</text><text x="1922" y="1012.5">O2</text><text x="1960" y="1012.5">O3</text>
<text x="1801" y="1274.5">O1</text><text x="1841" y="1274.5">O2</text><text x="1878" y="1274.5">O3</text>
<text x="2223" y="1510.5">O1</text><text x="2263" y="1510.5">O2</text>
<text x="2260" y="1743.5">O1</text><text x="2299" y="1743.5">O2</text>
<text x="2076" y="1898.5">O1</text><text x="2116" y="1898.5">O2</text><text x="2156" y="1898.5">O3</text><text x="2195" y="1898.5">O5</text>
<text x="2087" y="2029.5">O1</text><text x="2126" y="2029.5">O2</text><text x="2166" y="2029.5">O3</text>
<text x="2087" y="2241.5">O1</text><text x="2126" y="2241.5">O2</text><text x="2165" y="2241.5">O3</text>
<text x="1994" y="2465.5">O6</text>
<text x="2555" y="2594.5">O1</text><text x="2594" y="2594.5">O2</text><text x="2632" y="2594.5">O3</text>
</g>
</g>

<g id="n1"><rect class="g" x="113" y="79" width="236" height="39" rx="7"/><text class="t" x="231" y="96.75">Promoción del<tspan x="231" dy="16.5">turismo sostenible</tspan></text></g>
<g id="n2"><rect class="g" x="113" y="151" width="235" height="51" rx="7"/><text class="t" x="230.5" y="174.75">Manejo sostenible<tspan x="230.5" dy="16.5">de recursos</tspan></text></g>
<g id="n3"><rect class="g" x="113" y="238" width="197" height="44" rx="7"/><text class="t" x="211.5" y="258.25">Promoción<tspan x="211.5" dy="16.5">investigación</tspan></text></g>
<g id="n4"><rect class="g" x="113" y="315" width="227" height="27" rx="7"/><text class="t" x="226.5" y="335">Vigilancia y control</text></g>
<g id="n5"><rect class="g" x="113" y="373" width="318" height="59" rx="7"/><text class="t" x="272" y="392.5">Promover la seguridad jurídica<tspan x="272" dy="16.5">para la población de Nueva América</tspan><tspan x="272" dy="16.5">en la zona de uso especial</tspan></text></g>
<g id="n6"><rect class="g" x="113" y="482" width="299" height="57" rx="7"/><text class="t" x="262.5" y="500.5">Diversificación de actividades<tspan x="262.5" dy="16.5">en las zonas de aprovechamiento</tspan><tspan x="262.5" dy="16.5">de castaña</tspan></text></g>
<g id="n7"><rect class="g" x="113" y="594" width="300" height="36" rx="7"/><text class="t" x="263" y="610.25">Promoción de alternativas<tspan x="263" dy="16.5">sostenibles en la ZA</tspan></text></g>
<g id="n8"><rect class="g" x="550" y="568" width="159" height="39" rx="7"/><text class="t" x="629.5" y="585.75">Manejo sostenible<tspan x="629.5" dy="16.5">de castaña</tspan></text></g>
<g id="n9"><rect class="g" x="113" y="665" width="227" height="27" rx="7"/><text class="t" x="226.5" y="685">Vigilancia y control</text></g>
<g id="n10"><rect class="g" x="113" y="733" width="300" height="37" rx="7"/><text class="t" x="263" y="749.75">Promoción de alternativas<tspan x="263" dy="16.5">sostenibles en la ZA</tspan></text></g>
<g id="n11"><rect class="g" x="113" y="835" width="236" height="52" rx="7"/><text class="t" x="231" y="859.25">Manejo sostenible<tspan x="231" dy="16.5">de palmeras</tspan></text></g>
<g id="n12"><rect class="g" x="113" y="972" width="227" height="30" rx="7"/><text class="t" x="226.5" y="993.5">Vigilancia y control</text></g>
<g id="n13"><rect class="g" x="113" y="1054" width="203" height="52" rx="7"/><text class="t" x="214.5" y="1078.25">Promoción<tspan x="214.5" dy="16.5">Investigación</tspan></text></g>
<g id="n14"><rect class="g" x="113" y="1148" width="301" height="61" rx="7"/><text class="t" x="263.5" y="1168.5">Promover mejoras en la gestión<tspan x="263.5" dy="16.5">ambiental municipal en la</tspan><tspan x="263.5" dy="16.5">cuenca de Tambopata</tspan></text></g>
<g id="n15"><rect class="g" x="113" y="1297" width="300" height="63" rx="7"/><text class="t" x="263" y="1318.5">Campaña de comunicación<tspan x="263" dy="16.5">sobre los efectos nocivos del</tspan><tspan x="263" dy="16.5">mercurio en humanos</tspan></text></g>
<g id="n16"><rect class="g" x="113" y="1416" width="196" height="26" rx="7"/><text class="t" x="211" y="1435.5">Vigilancia y control</text></g>
<g id="n17"><rect class="g" x="250" y="1576" width="239" height="43" rx="7"/><text class="t" x="369.5" y="1595.75">Promoción de alternativas<tspan x="369.5" dy="16.5">sostenibles en la ZA</tspan></text></g>
<g id="n18"><rect class="g" x="113" y="1648" width="239" height="57" rx="7"/><text class="t" x="232.5" y="1666.5">Promover mayor presencia<tspan x="232.5" dy="16.5">de distintas organizaciones</tspan><tspan x="232.5" dy="16.5">del Estado en la ZA</tspan></text></g>
<g id="n19"><rect class="g" x="113" y="1734" width="322" height="79" rx="7"/><text class="t" x="274" y="1755.25">Promover la formalización y/o<tspan x="274" dy="16.5">adecuación de una minería de</tspan><tspan x="274" dy="16.5">bajo impacto por fuera de la RNTAMB</tspan><tspan x="274" dy="16.5">en las zonas permitidas (DL 1100)</tspan></text></g>
<g id="n20"><rect class="g" x="113" y="1844" width="239" height="57" rx="7"/><text class="t" x="232.5" y="1862.5">Promoción de actividades<tspan x="232.5" dy="16.5">sostenibles (ej. cacao</tspan><tspan x="232.5" dy="16.5">en sistemas agroforestales)</tspan></text></g>
<g id="n21"><rect class="g" x="113" y="1933" width="173" height="29" rx="7"/><text class="t" x="199.5" y="1954">Manejo de la collpa</text></g>
<g id="n22"><rect class="g" x="113" y="1996" width="203" height="43" rx="7"/><text class="t" x="214.5" y="2015.75">Promoción del turismo<tspan x="214.5" dy="16.5">sostenible</tspan></text></g>
<g id="n23"><rect class="g" x="113" y="2073" width="208" height="59" rx="7"/><text class="t" x="217" y="2092.5">Manejo de conflicto<tspan x="217" dy="16.5">humano - fauna en</tspan><tspan x="217" dy="16.5">Nueva América y la ZA</tspan></text></g>
<g id="n24"><rect class="g" x="113" y="2163" width="254" height="63" rx="7"/><text class="t" x="240" y="2184.5">Manejo sostenible de<tspan x="240" dy="16.5">RRNN por el pueblo Ese´eja</tspan><tspan x="240" dy="16.5">al interior de la RNTAMB</tspan></text></g>
<g id="n25"><rect class="g" x="113" y="2277" width="285" height="64" rx="7"/><text class="t" x="255.5" y="2299">Promover el acceso a los<tspan x="255.5" dy="16.5">servicios básicos para las CCNN</tspan><tspan x="255.5" dy="16.5">Palma Real, Sonene e Infierno</tspan></text></g>
<g id="n26"><rect class="g" x="113" y="2392" width="300" height="87" rx="7"/><text class="t" x="263" y="2417.25">Promover la revaloración cultural<tspan x="263" dy="16.5">indígena (prácticas, conocimientos</tspan><tspan x="263" dy="16.5">y saberes ancestrales)</tspan><tspan x="263" dy="16.5">del pueblo Ese´eja</tspan></text></g>
<g id="n27"><rect class="g" x="113" y="2488" width="285" height="64" rx="7"/><text class="t" x="255.5" y="2510">Manejo sostenible de recursos<tspan x="255.5" dy="16.5">hidrobiológicos por el pueblo</tspan><tspan x="255.5" dy="16.5">Ese´eja al interior de la RNTAMB</tspan></text></g>
<g id="n28"><rect class="g" x="113" y="2569" width="368" height="63" rx="7"/><text class="t" x="297" y="2590.5">Promover la revaloración cultural indígena<tspan x="297" dy="16.5">(prácticas, conocimientos y saberes</tspan><tspan x="297" dy="16.5">ancestrales) del pueblo Ese´eja</tspan></text></g>
<g id="n29"><rect class="g" x="946" y="2706" width="330" height="64" rx="7"/><text class="t" x="1111" y="2728">Mejorar la representatividad y<tspan x="1111" dy="16.5">representación de los miembros</tspan><tspan x="1111" dy="16.5">del Comité de Gestión de la RNTAMB</tspan></text></g>
<g id="n30"><rect class="g" x="945" y="2811" width="330" height="48" rx="7"/><text class="t" x="1110" y="2833.25">Comunicación y educación ambiental<tspan x="1110" dy="16.5">en la RNTAMB, su ZA y ZI</tspan></text></g>
<g id="n31"><rect class="gr" x="903" y="2896" width="432" height="72" rx="7"/><text class="t" x="1119" y="2919.5">MONITOREO DE RESULTADOS E IMPACTOS<tspan x="1119" dy="16.5">DE LA IMPLEMENTACIÓN DEL PLAN MAESTRO</tspan><tspan x="1119" dy="16.5">DE LA RNTAMB</tspan></text></g>
<g id="n32"><rect class="g" x="1665" y="1631" width="117" height="41" rx="7"/><text class="t" x="1723.5" y="1649.75">Promoción<tspan x="1723.5" dy="16.5">Investigación</tspan></text></g>

<g id="f1"><rect class="o" x="715" y="195" width="86" height="43" rx="6"/><text class="t" x="758" y="214.75">Quemas<tspan x="758" dy="16.5">(humo)</tspan></text></g>
<g id="f2"><rect class="o" x="715" y="256" width="234" height="58" rx="6"/><text class="t" x="832" y="275">Quemas no controladas o<tspan x="832" dy="16.5">intencionadas en Nueva</tspan><tspan x="832" dy="16.5">América y Jorge Chávez</tspan></text></g>
<g id="f3"><rect class="o" x="689" y="369" width="208" height="41" rx="6"/><text class="t" x="793" y="387.75">Falta de seguridad<tspan x="793" dy="16.5">jurídica y ordenamiento</tspan></text></g>
<g id="f4"><rect class="o" x="717" y="418" width="177" height="71" rx="6"/><text class="t" x="805.5" y="435.25">Falta de incentivos<tspan x="805.5" dy="16.5">económicos para</tspan><tspan x="805.5" dy="16.5">realizar actividades</tspan><tspan x="805.5" dy="16.5">más sostenibles</tspan></text></g>
<g id="f5"><rect class="o" x="715" y="496" width="128" height="43" rx="6"/><text class="t" x="779" y="515.75">Necesidad<tspan x="779" dy="16.5">de ingresos</tspan></text></g>
<g id="f6"><rect class="o" x="1123" y="108" width="128" height="42" rx="6"/><text class="t" x="1187" y="127.25">sobre uso de<tspan x="1187" dy="16.5">recursos</tspan></text></g>
<g id="f7"><rect class="o" x="1031" y="175" width="256" height="28" rx="6"/><text class="t" x="1159" y="195.5">disminución de polinizadores</text></g>
<g id="f8"><rect class="o" x="1106" y="263" width="102" height="40" rx="6"/><text class="t" x="1157" y="281.25">Pérdida de<tspan x="1157" dy="16.5">hábitat</tspan></text></g>
<g id="f9"><rect class="o" x="1289" y="378" width="178" height="57" rx="6"/><text class="t" x="1378" y="396.5">Cambio de bosques<tspan x="1378" dy="16.5">para agricultura</tspan><tspan x="1378" dy="16.5">y ganadería</tspan></text></g>
<g id="f10"><rect class="o" x="1050" y="423" width="132" height="57" rx="6"/><text class="t" x="1116" y="441.5">Aumento de la<tspan x="1116" dy="16.5">ganadería y</tspan><tspan x="1116" dy="16.5">agricultura</tspan></text></g>
<g id="f11"><rect class="o" x="1043" y="521" width="155" height="56" rx="6"/><text class="t" x="1120.5" y="539">Aprovechamiento<tspan x="1120.5" dy="16.5">sostenible de</tspan><tspan x="1120.5" dy="16.5">castaña</tspan></text></g>
<g id="f12"><rect class="o" x="1350" y="509" width="98" height="42" rx="6"/><text class="t" x="1399" y="528.25">Sobreuso<tspan x="1399" dy="16.5">de recurso</tspan></text></g>
<g id="f13"><rect class="o" x="1040" y="621" width="256" height="27" rx="6"/><text class="t" x="1168" y="641">Pérdida por causas naturales</text></g>
<g id="f14"><rect class="o" x="715" y="724" width="178" height="71" rx="6"/><text class="t" x="804" y="741.25">Falta de incentivos<tspan x="804" dy="16.5">económicos para</tspan><tspan x="804" dy="16.5">realizar actividades</tspan><tspan x="804" dy="16.5">más sostenibles</tspan></text></g>
<g id="f15"><rect class="o" x="715" y="800" width="163" height="58" rx="6"/><text class="t" x="796.5" y="819">Necesidades<tspan x="796.5" dy="16.5">alimenticias de la</tspan><tspan x="796.5" dy="16.5">población local</tspan></text></g>
<g id="f16"><rect class="o" x="715" y="962" width="208" height="59" rx="6"/><text class="t" x="819" y="981.5">Minería aurífera dentro<tspan x="819" dy="16.5">de la RNTAMB</tspan><tspan x="819" dy="16.5">(Malinowsky)</tspan></text></g>
<g id="f17"><rect class="o" x="715" y="1135" width="245" height="62" rx="6"/><text class="t" x="837.5" y="1156">Deficiente o inexistente<tspan x="837.5" dy="16.5">manejo de residuos sólidos</tspan><tspan x="837.5" dy="16.5">y de aguas servidas</tspan></text></g>
<g id="f18"><rect class="o" x="715" y="1212" width="215" height="61" rx="6"/><text class="t" x="822.5" y="1232.5">Procesamiento de coca<tspan x="822.5" dy="16.5">en el alto Tambopata y</tspan><tspan x="822.5" dy="16.5">media del Inambari</tspan></text></g>
<g id="f19"><rect class="o" x="705" y="1446" width="162" height="46" rx="6"/><text class="t" x="786" y="1467.25">Fácil accesibilidad<tspan x="786" dy="16.5">a la RNTAMB</tspan></text></g>
<g id="f20"><rect class="o" x="1086" y="780" width="238" height="93" rx="6"/><text class="t" x="1205" y="800">Extracción no sostenible<tspan x="1205" dy="16.5">de frutos, suri y hojas de</tspan><tspan x="1205" dy="16.5">palmeras (en Nueva</tspan><tspan x="1205" dy="16.5">América por pobladores de</tspan><tspan x="1205" dy="16.5">Jorge Chávez y NA)</tspan></text></g>
<g id="f21"><rect class="o" x="1086" y="883" width="246" height="76" rx="6"/><text class="t" x="1209" y="902.75">Interés de pobladores de la<tspan x="1209" dy="16.5">zona de amortiguamiento</tspan><tspan x="1209" dy="16.5">en aprovechar palmeras</tspan><tspan x="1209" dy="16.5">en la RNTAMB</tspan></text></g>
<g id="f22"><rect class="o" x="1439" y="802" width="98" height="42" rx="6"/><text class="t" x="1488" y="821.25">Sobreuso<tspan x="1488" dy="16.5">de recurso</tspan></text></g>
<g id="f23"><rect class="o" x="1480" y="897" width="76" height="42" rx="6"/><text class="t" x="1518" y="916.25">Uso de<tspan x="1518" dy="16.5">recurso</tspan></text></g>
<g id="f24"><rect class="o" x="1126" y="974" width="237" height="47" rx="6"/><text class="t" x="1244.5" y="995.75">Cambio de uso<tspan x="1244.5" dy="16.5">(destrucción de aguajales)</tspan></text></g>
<g id="f25"><rect class="o" x="1191" y="1192" width="140" height="31" rx="6"/><text class="t" x="1261" y="1214">Contaminación</text></g>
<g id="f26"><rect class="o" x="1022" y="1307" width="185" height="47" rx="6"/><text class="t" x="1114.5" y="1328.75">Uso de mercurio y<tspan x="1114.5" dy="16.5">otros contaminantes</tspan></text></g>
<g id="f27"><rect class="o" x="1045" y="1421" width="207" height="62" rx="6"/><text class="t" x="1148.5" y="1442">Minería aurífera dentro<tspan x="1148.5" dy="16.5">de la RNTAMB</tspan><tspan x="1148.5" dy="16.5">(Malinowski) y en la ZA</tspan></text></g>
<g id="f28"><rect class="o" x="1353" y="1373" width="154" height="47" rx="6"/><text class="t" x="1430" y="1394.75">Cambio de curso<tspan x="1430" dy="16.5">y colmatación</tspan></text></g>
<g id="f29"><rect class="o" x="736" y="1529" width="97" height="28" rx="6"/><text class="t" x="784.5" y="1549.5">Migración</text></g>
<g id="f30"><rect class="o" x="749" y="1564" width="206" height="41" rx="6"/><text class="t" x="852" y="1582.75">Falta de oportunidades/<tspan x="852" dy="16.5">trabajo</tspan></text></g>
<g id="f31"><rect class="o" x="792" y="1613" width="196" height="40" rx="6"/><text class="t" x="890" y="1631.25">Necesidad de ingresos<tspan x="890" dy="16.5">económicos</tspan></text></g>
<g id="f32"><rect class="o" x="850" y="1661" width="163" height="38" rx="6"/><text class="t" x="931.5" y="1678.25">Falta de presencia<tspan x="931.5" dy="16.5">del Estado</tspan></text></g>
<g id="f33"><rect class="o" x="853" y="1705" width="237" height="41" rx="6"/><text class="t" x="971.5" y="1723.75">Facilidad para extracción y<tspan x="971.5" dy="16.5">comercialización del oro</tspan></text></g>
<g id="f34"><rect class="o" x="858" y="2011" width="146" height="42" rx="6"/><text class="t" x="931" y="2030.25">Ganado comido<tspan x="931" dy="16.5">por jaguar</tspan></text></g>
<g id="f35"><rect class="o" x="818" y="2105" width="224" height="41" rx="6"/><text class="t" x="930" y="2123.75">Necesidades alimenticias<tspan x="930" dy="16.5">de la población local</tspan></text></g>
<g id="f36"><rect class="o" x="1385" y="1470" width="185" height="60" rx="6"/><text class="t" x="1477.5" y="1490">Cambio de uso<tspan x="1477.5" dy="16.5">(destrucción bosques</tspan><tspan x="1477.5" dy="16.5">terrazas bajas)</tspan></text></g>
<g id="f37"><rect class="o" x="1114" y="1568" width="169" height="61" rx="6"/><text class="t" x="1198.5" y="1588.5">Promoción de vías<tspan x="1198.5" dy="16.5">por municipios</tspan><tspan x="1198.5" dy="16.5">y GORE</tspan></text></g>
<g id="f38"><rect class="o" x="1297" y="1575" width="200" height="61" rx="6"/><text class="t" x="1397" y="1595.5">Inadecuadas prácticas<tspan x="1397" dy="16.5">ambientales en la act.</tspan><tspan x="1397" dy="16.5">MAPE</tspan></text></g>
<g id="f39"><rect class="o" x="1173" y="1794" width="162" height="42" rx="6"/><text class="t" x="1254" y="1813.25">Deforestación por<tspan x="1254" dy="16.5">diversas causas</tspan></text></g>
<g id="f40"><rect class="o" x="1524" y="1799" width="101" height="43" rx="6"/><text class="t" x="1574.5" y="1818.75">Pérdida de<tspan x="1574.5" dy="16.5">hábitat</tspan></text></g>
<g id="f41"><rect class="o" x="1156" y="1849" width="192" height="61" rx="6"/><text class="t" x="1252" y="1869.5">Revegetación natural<tspan x="1252" dy="16.5">de las collpas</tspan><tspan x="1252" dy="16.5">(se cierran)</tspan></text></g>
<g id="f42"><rect class="o" x="1184" y="1928" width="124" height="60" rx="6"/><text class="t" x="1246" y="1948">Turismo de<tspan x="1246" dy="16.5">observación</tspan><tspan x="1246" dy="16.5">de fauna</tspan></text></g>
<g id="f43"><rect class="o" x="1150" y="1999" width="222" height="60" rx="6"/><text class="t" x="1261" y="2019">Pobladores de Nueva<tspan x="1261" dy="16.5">América y en la ZA cazan</tspan><tspan x="1261" dy="16.5">individuos de otorongo</tspan></text></g>
<g id="f44"><rect class="o" x="1486" y="2022" width="155" height="43" rx="6"/><text class="t" x="1563.5" y="2041.75">Desplazamiento<tspan x="1563.5" dy="16.5">de especie</tspan></text></g>
<g id="f45"><rect class="o" x="1195" y="2073" width="154" height="57" rx="6"/><text class="t" x="1272" y="2091.5">Cacería para<tspan x="1272" dy="16.5">autoconsumo por</tspan><tspan x="1272" dy="16.5">el pueblo Ese´eja</tspan></text></g>
<g id="f46"><rect class="o" x="1463" y="2102" width="146" height="24" rx="6"/><text class="t" x="1536" y="2120.5">Uso de recurso</text></g>
<g id="f47"><rect class="o" x="1103" y="2148" width="267" height="42" rx="6"/><text class="t" x="1236.5" y="2167.25">Necesidades de susbsistencia<tspan x="1236.5" dy="16.5">de la población Ese´eja</tspan></text></g>
<g id="f48"><rect class="o" x="1462" y="2169" width="147" height="23" rx="6"/><text class="t" x="1535.5" y="2187">Uso de recurso</text></g>
<g id="f49"><rect class="o" x="831" y="2279" width="162" height="44" rx="6"/><text class="t" x="912" y="2299.25">Falta de acceso a<tspan x="912" dy="16.5">servicios básicos</tspan></text></g>
<g id="f50"><rect class="o" x="1055" y="2344" width="351" height="44" rx="6"/><text class="t" x="1230.5" y="2364.25">Incorporación a la tecnología (celulares<tspan x="1230.5" dy="16.5">y otros) a las comunidades</tspan></text></g>
<g id="f51"><rect class="o" x="1015" y="2420" width="442" height="42" rx="6"/><text class="t" x="1236" y="2439.25">Los sabios del pueblo Ese´eja no tienen los medios<tspan x="1236" dy="16.5">para transmitir sus conocimientos a jóvenes y niños</tspan></text></g>
<g id="f52"><rect class="o" x="1531" y="2371" width="109" height="57" rx="6"/><text class="t" x="1585.5" y="2389.5">Pérdida de<tspan x="1585.5" dy="16.5">valores</tspan><tspan x="1585.5" dy="16.5">culturales</tspan></text></g>
<g id="f53"><rect class="o" x="1155" y="2495" width="177" height="43" rx="6"/><text class="t" x="1243.5" y="2514.75">Demanda en<tspan x="1243.5" dy="16.5">Puerto Maldonado</tspan></text></g>
<g id="f54"><rect class="o" x="1492" y="2556" width="161" height="27" rx="6"/><text class="t" x="1572.5" y="2576">Pesca comercial</text></g>
<g id="f55"><rect class="o" x="1468" y="2601" width="184" height="27" rx="6"/><text class="t" x="1560" y="2621">Pesca autoconsumo</text></g>
<g id="f56"><rect class="o" x="1177" y="2618" width="161" height="28" rx="6"/><text class="t" x="1257.5" y="2638.5">Uso ancestral</text></g>
<g id="f57"><rect class="o" x="1860" y="2603" width="162" height="26" rx="6"/><text class="t" x="1941" y="2622.5">Uso de recursos</text></g>
<g id="f58"><rect class="o" x="279" y="1533" width="253" height="30" rx="6"/><text class="t" x="405.5" y="1554.5">Incremento de precio del oro</text></g>

<g id="e1"><rect class="w" x="1695" y="141" width="302" height="202" rx="6"/>
<text class="t" x="1846" y="162.5">CASTAÑA<tspan x="1846" dy="17">Elemento ambiental</tspan></text>
<rect class="y" x="1753" y="188" width="186" height="61" rx="5"/><text class="t" x="1846" y="208">Área basal<tspan x="1846" dy="17">Número de cocos</tspan><tspan x="1846" dy="17">Número de reclutas</tspan></text>
<text class="t" x="1846" y="269.5">Elemento económico</text>
<rect class="y" x="1703" y="276" width="286" height="59" rx="5"/><text class="t" x="1846" y="294.5">Volumen de aprovechamiento<tspan x="1846" dy="16.5">Número de familias beneficiarias</tspan><tspan x="1846" dy="16.5">Ingreso económico/zafra</tspan></text></g>
<g id="e2"><rect class="w" x="1692" y="403" width="287" height="118" rx="6"/>
<text class="t" x="1835" y="425.5">BOSQUES DE TERRAZA ALTA</text><text class="t" x="1835" y="458.5">Elemento ambiental</text>
<rect class="y" x="1714" y="470" width="241" height="43" rx="5"/><text class="t" x="1834.5" y="488.5">Superficie (ha) de cobertura<tspan x="1834.5" dy="17">de bosque de castaña</tspan></text></g>
<g id="e3"><rect class="w" x="2388" y="123" width="301" height="155" rx="6"/>
<text class="t" x="2538.5" y="146.5">BOSQUES HÚMEDOS DE LA<tspan x="2538.5" dy="16.5">AMAZONÍA SUR</tspan><tspan x="2538.5" dy="17">(Llanura amazónica)</tspan></text>
<text class="t" x="2538.5" y="213.5">Elemento ambiental</text>
<rect class="y" x="2395" y="219" width="286" height="52" rx="5"/><text class="t" x="2538" y="243.5">Número de hectáreas de<tspan x="2538" dy="16.5">cobertura boscosa sin afectación</tspan></text></g>
<g id="e4"><rect class="w" x="2121" y="440" width="407" height="253" rx="6"/>
<text class="t" x="2324.5" y="460.5">RECURSO PAISAJE APROVECHADO<tspan x="2324.5" dy="17">POR EL TURISMO SOSTENIBLE</tspan></text>
<text class="t" x="2324.5" y="511.5">Elemento ambiental</text>
<rect class="y" x="2193" y="519" width="263" height="44" rx="5"/><text class="t" x="2324.5" y="538.5">Indicadores de los elementos<tspan x="2324.5" dy="17.5">vinculados</tspan></text>
<text class="t" x="2324.5" y="583.5">Elemento económico</text>
<rect class="y" x="2132" y="590" width="385" height="84" rx="5"/><text class="t" x="2324.5" y="610.5">Ingresos por actividad turística<tspan x="2324.5" dy="17.5">Número de visitantes/año</tspan><tspan x="2324.5" dy="18">Número de beneficiarios directos e indirectos</tspan><tspan x="2324.5" dy="17.5">Porcentaje de satisfacción del visitante</tspan></text></g>
<g id="e5"><rect class="w" x="1697" y="754" width="339" height="200" rx="6"/>
<text class="t" x="1866.5" y="774.5">BOSQUES INUNDABLES<tspan x="1866.5" dy="17">DE PALMERAS</tspan></text>
<text class="t" x="1866.5" y="825.5">Elemento ambiental</text>
<rect class="y" x="1708" y="833" width="316" height="28" rx="5"/><text class="t" x="1866" y="853.5">Número de hectáreas sin afectación</text>
<text class="t" x="1866.5" y="882.5">Elemento económico</text>
<rect class="y" x="1704" y="889" width="325" height="55" rx="5"/><text class="t" x="1866.5" y="906.5">Volúmen de aprovechamiento<tspan x="1866.5" dy="17">Número de hectáreas con</tspan><tspan x="1866.5" dy="17">derechos otorgados</tspan></text></g>
<g id="e6"><rect class="w" x="1697" y="1024" width="278" height="165" rx="6"/>
<text class="t" x="1836" y="1047.5">Cuerpos de agua<tspan x="1836" dy="16.5">(cochas Sandoval, Cocococha y</tspan><tspan x="1836" dy="17">Sachavacayoc)</tspan></text>
<rect class="y" x="1704" y="1097" width="265" height="28" rx="5"/><text class="t" x="1836.5" y="1117.5">Indicadores de calidad de agua</text>
<rect class="y" x="1715" y="1137" width="242" height="43" rx="5"/><text class="t" x="1836" y="1157.5">Número de familias de<tspan x="1836" dy="17">lobo de río</tspan></text></g>
<g id="e7"><rect class="w" x="1766" y="1287" width="302" height="88" rx="6"/>
<text class="t" x="1917" y="1308.5">Cuerpos de agua<tspan x="1917" dy="17">(río Tambopata y Malinowski)</tspan></text>
<rect class="y" x="1781" y="1336" width="272" height="28" rx="5"/><text class="t" x="1917" y="1356.5">Indicadores de calidad de agua</text></g>
<g id="e8"><rect class="w" x="2016" y="1523" width="263" height="104" rx="6"/>
<text class="t" x="2147.5" y="1545.5">Bosque de terraza baja</text>
<rect class="y" x="2023" y="1557" width="249" height="63" rx="5"/><text class="t" x="2147.5" y="1577">Número de hectáreas en<tspan x="2147.5" dy="17">proceso de recuperación del</tspan><tspan x="2147.5" dy="16.5">bosque de terraza baja</tspan></text></g>
<g id="e9"><rect class="w" x="2060" y="1758" width="256" height="103" rx="6"/>
<text class="t" x="2188" y="1779.5">Collpas para mamíferos<tspan x="2188" dy="17">y para aves</tspan></text>
<rect class="y" x="2067" y="1806" width="241" height="48" rx="5"/><text class="t" x="2187.5" y="1827.5">Riqueza de especies/anual<tspan x="2187.5" dy="17">(aves)</tspan></text></g>
<g id="e10"><rect class="w" x="2060" y="1911" width="211" height="81" rx="6"/>
<text class="t" x="2165.5" y="1933.5">Otorongo</text>
<rect class="y" x="2067" y="1937" width="196" height="48" rx="5"/><text class="t" x="2165" y="1958.5">Registro de presencia/<tspan x="2165" dy="17">ausencia e indicios</tspan></text></g>
<g id="e11"><rect class="w" x="2071" y="2042" width="278" height="172" rx="6"/>
<text class="t" x="2210" y="2061.5">Especies sujetas a caza<tspan x="2210" dy="22">Elemento ambiental</tspan></text>
<rect class="y" x="2078" y="2089" width="264" height="41" rx="5"/><text class="t" x="2210" y="2108.5">Densidad/ocupación de<tspan x="2210" dy="17">especies sujetas a caza</tspan></text>
<text class="t" x="2210" y="2158.5">Elemento económico</text>
<rect class="y" x="2078" y="2165" width="264" height="41" rx="5"/><text class="t" x="2210" y="2184.5">Volumen de aprovechamiento<tspan x="2210" dy="17">(biomasa kg)</tspan></text></g>
<g id="e12"><rect class="w" x="2071" y="2254" width="468" height="199" rx="6"/>
<text class="t" x="2305" y="2272.5">Especies no maderables (huasaí,huayruro, pona,<tspan x="2305" dy="18">palmiche y tamishe)</tspan></text>
<text class="t" x="2305" y="2316.5">Elemento ambiental</text>
<rect class="y" x="2078" y="2323" width="453" height="49" rx="5"/><text class="t" x="2304.5" y="2343.5">Número de individuos/Hectárea/Densidad<tspan x="2304.5" dy="17">(huasaí, huayruro, palmiche, pona y huayruro)</tspan></text>
<text class="t" x="2305" y="2392.5">Elemento económico</text>
<rect class="y" x="2082" y="2398" width="445" height="47" rx="5"/><text class="t" x="2304.5" y="2419.5">Volumen de aprovechamiento de semillas (kg) de<tspan x="2304.5" dy="17">huasaí, huayruro, pona, pamiche, tamishe por año</tspan></text></g>
<g id="e13"><rect class="w" x="1978" y="2479" width="301" height="117" rx="6"/>
<text class="t" x="2128.5" y="2498.5">Prácticas, conocimientos y saberes<tspan x="2128.5" dy="18">ancestrales del pueblo Ese´eja</tspan></text>
<rect class="y" x="1985" y="2527" width="287" height="27" rx="5"/><text class="t" x="2128.5" y="2547">Número de actividades culturales</text>
<rect class="y" x="1985" y="2562" width="287" height="26" rx="5"/><text class="t" x="2128.5" y="2581.5">Número de docentes capacitados</text></g>
<g id="e14"><rect class="w" x="2288" y="2609" width="377" height="110" rx="6"/>
<text class="t" x="2476.5" y="2630.5">Especies de peces<tspan x="2476.5" dy="17">(paco, doncella, boquichico, mota, sabalo)</tspan></text>
<text class="t" x="2476.5" y="2679.5">Elemento ambiental</text>
<rect class="y" x="2344" y="2685" width="264" height="26" rx="5"/><text class="t" x="2476" y="2704.5">Registro (biomasa) individuos</text></g>
</svg>
